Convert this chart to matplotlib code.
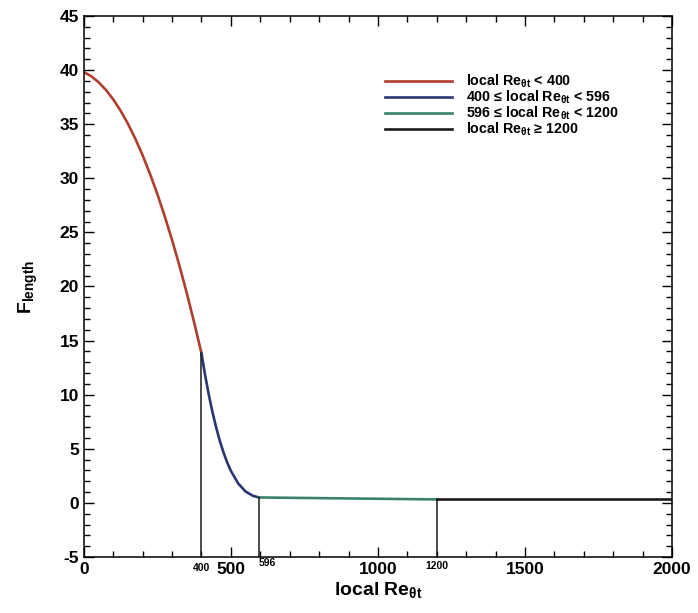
import matplotlib
matplotlib.use("Agg")
import matplotlib.pyplot as plt
from matplotlib.ticker import MultipleLocator

plt.rcParams["font.family"] = ["Liberation Sans", "DejaVu Sans"]
plt.rcParams["font.weight"] = "bold"
plt.rcParams["axes.labelweight"] = "bold"
plt.rcParams["axes.unicode_minus"] = False
plt.rcParams["mathtext.fontset"] = "custom"
plt.rcParams["mathtext.rm"] = "Liberation Sans:bold"
plt.rcParams["mathtext.it"] = "Liberation Sans:bold"
plt.rcParams["mathtext.bf"] = "Liberation Sans:bold"
plt.rcParams["mathtext.default"] = "rm"

# F_length vs local Re_theta_t, piecewise
re_low = [0, 25, 50, 75, 100, 125, 150, 175, 200, 225, 250, 275, 300, 325, 350, 375, 400]
f_low = [39.82, 39.44, 38.89, 38.18, 37.30, 36.26, 35.05, 33.67, 32.13, 30.42,
         28.55, 26.51, 24.31, 21.94, 19.41, 16.70, 13.84]

re_mid = [400, 412.5, 425, 437.5, 450, 462.5, 475, 487.5, 500, 525, 550, 575, 596]
f_mid = [13.84, 11.81, 10.00, 8.39, 6.97, 5.73, 4.66, 3.74, 2.96, 1.79, 1.05, 0.65, 0.50]

re_high = [596, 1200]
f_high = [0.50, 0.32]

re_top = [1200, 2000]
f_top = [0.32, 0.32]

breaks = [400, 596, 1200]
break_f = [13.84, 0.50, 0.32]

labels = [
    "local Re$_{\\theta t}$ < 400",
    "400 \u2264 local Re$_{\\theta t}$ < 596",
    "596 \u2264 local Re$_{\\theta t}$ < 1200",
    "local Re$_{\\theta t}$ \u2265 1200",
]
colors = ["#b03e2c", "#2a3672", "#3a8270", "#1a1a1a"]

fig = plt.figure(figsize=(6.98, 6.13), dpi=100)
ax = fig.add_axes([0.120, 0.0914, 0.843, 0.8825])

for xs, ys, c, lab in zip([re_low, re_mid, re_high, re_top],
                          [f_low, f_mid, f_high, f_top], colors, labels):
    ax.plot(xs, ys, color=c, lw=1.9, label=lab)

# vertical markers at the switch points
ax.vlines(breaks, -5, break_f, color="#1a1a1a", lw=1.1)

ax.set_xlim(0, 2000)
ax.set_ylim(-5, 45)
ax.xaxis.set_major_locator(MultipleLocator(500))
ax.xaxis.set_minor_locator(MultipleLocator(100))
ax.yaxis.set_major_locator(MultipleLocator(5))
ax.yaxis.set_minor_locator(MultipleLocator(1))
ax.tick_params(which="both", direction="in", top=True, right=True, width=1.0)
ax.tick_params(which="major", length=7, labelsize=12.5)
ax.tick_params(which="minor", length=4)
for s in ax.spines.values():
    s.set_linewidth(1.1)

# small labels for the switch points
ax.text(400, -5.6, "400", ha="center", va="top", fontsize=7.5)
ax.text(596, -5.1, "596", ha="left", va="top", fontsize=7.5)
ax.text(1200, -5.35, "1200", ha="center", va="top", fontsize=7.5)

ax.set_xlabel("local Re$_{\\theta t}$", fontsize=14, labelpad=2)
ax.set_ylabel("F$_{length}$", fontsize=14, labelpad=14)

ax.legend(loc="upper left", bbox_to_anchor=(0.49, 0.919), frameon=False,
          fontsize=10.3, handlelength=4.7, labelspacing=-0.1, handletextpad=1.0)

fig.savefig("out.png", dpi=100)
